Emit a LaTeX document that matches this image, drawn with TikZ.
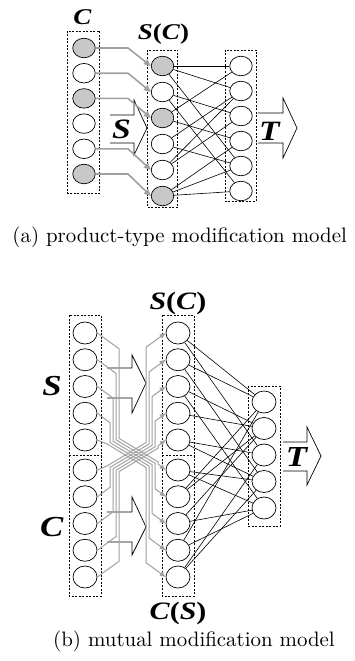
\documentclass[tikz,border=0pt]{standalone}
\usepackage{fontspec}
\usepackage{graphicx}
\newfontfamily\tnr{Liberation Serif}
\newfontfamily\capfont{lmroman10-regular.otf}
\usetikzlibrary{arrows.meta,shapes.geometric}
\definecolor{shadegray}{RGB}{200,200,200}
\definecolor{linegray}{RGB}{160,160,160}
\newcommand\bfit[1]{\textbf{\textit{#1}}}
\newcommand\wlab[1]{\scalebox{1.2}[1]{#1}}
\begin{document}
\begin{tikzpicture}[x=1pt,y=-1pt,
  unita/.style={ellipse,draw,line width=0.7pt,minimum width=22.5pt,minimum height=19.5pt,inner sep=0pt,fill=white},
  unitb/.style={ellipse,draw,line width=0.7pt,minimum width=24pt,minimum height=22pt,inner sep=0pt,fill=white},
  shaded/.style={fill=shadegray},
  groupbox/.style={draw,dash pattern=on 2pt off 1.5pt,line width=0.6pt},
  link/.style={line width=0.6pt},
  garrowa/.style={draw=linegray,line width=1.6pt,-{Triangle[length=7pt,width=6pt]}},
  garrowb/.style={draw=linegray,line width=1pt,-{Triangle[length=6pt,width=4.5pt]}},
  hollow/.style={draw,line width=0.7pt,line join=miter},
  lab/.style={inner sep=0pt,font=\tnr},
  captext/.style={inner sep=0pt,anchor=base,font=\capfont\fontsize{20.9}{22}\selectfont}
]
\useasboundingbox (0,0) rectangle (354,661);

% ================= (a) =================
\draw[groupbox] (67.5,31) rectangle (99.5,193);
\draw[groupbox] (147,50) rectangle (177.5,207);
\draw[groupbox] (225,50) rectangle (256,201);

\foreach \i/\s in {1/shaded,2/,3/shaded,4/,5/,6/shaded}
  \node[unita,\s] (ac\i) at (84,{48+25.2*(\i-1)}) {};
\foreach \i/\s in {1/shaded,2/,3/shaded,4/,5/,6/shaded}
  \node[unita,\s] (as\i) at (162.5,{66+26*(\i-1)}) {};
\foreach \i in {1,...,6}
  \node[unita] (ao\i) at (241,{66+25*(\i-1)}) {};

% input arrow S and output arrow T
\draw[hollow] (110,115) -- (134,115) -- (134,100) -- (147,128) -- (134,155) -- (134,143) -- (110,143);
\draw[hollow] (258,113) -- (283,113) -- (283,98) -- (297,128) -- (283,158) -- (283,143) -- (258,143);

% gray arrows
\foreach \i in {1,2,3,5,6}
  \draw[garrowa] (ac\i.east) -- (128,{48+25.2*(\i-1)}) -- (as\i.west);

% connections
\foreach \a/\b in {1/1,1/2,1/5,2/3,2/6,3/1,3/4,4/2,4/5,5/2,5/3,6/4,6/5,6/6}
  \draw[link] (as\a) -- (ao\b);

\node[lab,font=\tnr\fontsize{22.5}{23}\selectfont] (lca) at (82.5,17.5) {\wlab{\bfit{C}}};
\node[lab,font=\tnr\fontsize{22.5}{23}\selectfont] (lsca) at (163.5,34) {\wlab{\bfit{S}\textbf{(}\bfit{C}\textbf{)}}};
\node[lab,font=\tnr\fontsize{28}{28}\selectfont] (lsa) at (121.5,129.5) {\wlab{\bfit{S}}};
\node[lab,font=\tnr\fontsize{28}{28}\selectfont] (lta) at (270,131) {\wlab{\bfit{T}}};
\node[captext] (capa) at (179.7,242.5) {(a) product-type modification model};

% ================= (b) =================
\draw[groupbox] (69,315) rectangle (101,596);
\draw[groupbox] (69,455) -- (101,455);
\draw[groupbox] (162,315) rectangle (194,596);
\draw[groupbox] (162,455) -- (194,455);
\draw[groupbox] (248,386) rectangle (280,526);

\foreach \i in {1,...,5}{
  \node[unitb] (bs\i) at (85,{333+26.75*(\i-1)}) {};
  \node[unitb] (bc\i) at (85,{470+26.75*(\i-1)}) {};
  \node[unitb] (bsc\i) at (178,{333+26.75*(\i-1)}) {};
  \node[unitb] (bcs\i) at (178,{470+26.75*(\i-1)}) {};
  \node[unitb] (bo\i) at (264,{402+26.5*(\i-1)}) {};
}

% hollow arrows
\draw[hollow] (107,368) -- (132,368) -- (132,355) -- (146,383) -- (132,413) -- (132,398) -- (107,398);
\draw[hollow] (107,512) -- (132,512) -- (132,497) -- (146,527) -- (132,555) -- (132,542) -- (107,542);
\draw[hollow] (283,442) -- (307,442) -- (307,427) -- (321,456) -- (307,485) -- (307,471) -- (283,471);

% crossing gray arrows
\draw[garrowb] (bs1.east) -- (119,348.75) -- (119,438.4) -- (158,461.8) -- (158,464.05) -- (bcs1.west);
\draw[garrowb] (bs2.east) -- (116,373.4) -- (116,439.8) -- (155,463.2) -- (155,488.7) -- (bcs2.west);
\draw[garrowb] (bs3.east) -- (113,398.05) -- (113,441.2) -- (152,464.6) -- (152,513.35) -- (bcs3.west);
\draw[garrowb] (bs4.east) -- (110,422.7) -- (110,442.6) -- (149,466.0) -- (149,538.0) -- (bcs4.west);
\draw[garrowb] (bs5.east) -- (107,444.0) -- (146,467.4) -- (146,562.65) -- (bcs5.west);
\draw[garrowb] (bc5.east) -- (119,561.25) -- (119,471.6) -- (158,448.2) -- (158,445.95) -- (bsc5.west);
\draw[garrowb] (bc4.east) -- (116,536.6) -- (116,470.2) -- (155,446.8) -- (155,421.3) -- (bsc4.west);
\draw[garrowb] (bc3.east) -- (113,511.95) -- (113,468.8) -- (152,445.4) -- (152,396.65) -- (bsc3.west);
\draw[garrowb] (bc2.east) -- (110,487.3) -- (110,467.4) -- (149,444.0) -- (149,372.0) -- (bsc2.west);
\draw[garrowb] (bc1.east) -- (107,466.0) -- (146,442.6) -- (146,347.35) -- (bsc1.west);

% connections middle -> output
\foreach \a/\b in {1/1,1/3,2/1,2/4,3/2,3/5,4/2,5/3,5/4}
  \draw[link] (bsc\a) -- (bo\b);
\foreach \a/\b in {1/4,1/5,2/1,2/2,3/2,3/5,4/1,4/5,5/3,5/4}
  \draw[link] (bcs\a) -- (bo\b);

\node[lab,font=\tnr\fontsize{29}{29}\selectfont] (lsb) at (52,386) {\wlab{\bfit{S}}};
\node[lab,font=\tnr\fontsize{29}{29}\selectfont] (lcb) at (52,527.5) {\wlab{\bfit{C}}};
\node[lab,font=\tnr\fontsize{29}{29}\selectfont] (ltb) at (297,457) {\wlab{\bfit{T}}};
\node[lab,font=\tnr\fontsize{25}{25}\selectfont] (lscb) at (178,303) {\wlab{\bfit{S}\textbf{(}\bfit{C}\textbf{)}}};
\node[lab,font=\tnr\fontsize{25}{25}\selectfont] (lcsb) at (178,613) {\wlab{\bfit{C}\textbf{(}\bfit{S}\textbf{)}}};
\node[captext] (capb) at (194,646.5) {(b) mutual modification model};
\end{tikzpicture}
\end{document}
